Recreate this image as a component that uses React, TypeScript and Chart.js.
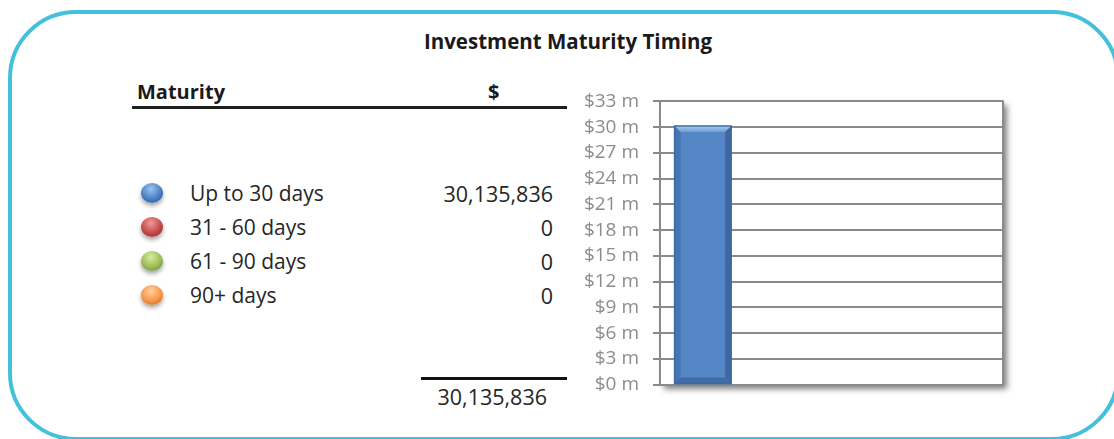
import React, { useEffect, useRef } from "react";
import { Chart, registerables } from "chart.js";

Chart.register(...registerables);

const title = "Investment Maturity Timing";
const categories = ["Up to 30 days", "31 - 60 days", "61 - 90 days", "90+ days"];
const amounts = [30135836, 0, 0, 0];
const ballColors = [
  ["#9cc3f0", "#4a7fc4", "#1f4f8f"],
  ["#f09a98", "#c44a48", "#8a2321"],
  ["#d6ee9c", "#9bbb59", "#5f7f25"],
  ["#ffd0a0", "#f79646", "#b85f12"],
];
const yTicksMax = 33;
const yTicksStep = 3;

const FONT = "'Open Sans', Lato, sans-serif";

function fmt(n: number) {
  return n.toLocaleString("en-US");
}

const plotFrame = {
  id: "plotFrame",
  beforeDraw(chart: any) {
    const { ctx, chartArea: a } = chart;
    ctx.save();
    ctx.shadowColor = "rgba(0,0,0,0.5)";
    ctx.shadowBlur = 6;
    ctx.shadowOffsetX = 4;
    ctx.shadowOffsetY = 4;
    ctx.fillStyle = "#ffffff";
    ctx.fillRect(a.left, a.top, a.right - a.left, a.bottom - a.top);
    ctx.restore();
  },
  afterDraw(chart: any) {
    const { ctx, chartArea: a } = chart;
    ctx.save();
    ctx.strokeStyle = "#8a8a8a";
    ctx.lineWidth = 2;
    ctx.beginPath();
    ctx.moveTo(a.right, a.top - 1);
    ctx.lineTo(a.right, a.bottom + 1);
    ctx.stroke();
    ctx.restore();
  },
  afterDatasetsDraw(chart: any) {
    const { ctx } = chart;
    const meta = chart.getDatasetMeta(0);
    meta.data.forEach((bar: any) => {
      const p = bar.getProps(["x", "y", "base", "width"], true);
      const h = p.base - p.y;
      if (h < 2) return;
      const l = p.x - p.width / 2;
      const r = p.x + p.width / 2;
      const t = p.y;
      const b = p.base;
      const bv = 6;
      ctx.save();
      const gt = ctx.createLinearGradient(0, t, 0, t + bv);
      gt.addColorStop(0, "#a9cbf2");
      gt.addColorStop(1, "#6f9bd6");
      ctx.fillStyle = gt;
      ctx.beginPath();
      ctx.moveTo(l, t);
      ctx.lineTo(r, t);
      ctx.lineTo(r - bv, t + bv);
      ctx.lineTo(l + bv, t + bv);
      ctx.closePath();
      ctx.fill();
      ctx.fillStyle = "rgba(40,80,140,0.3)";
      ctx.beginPath();
      ctx.moveTo(l, t);
      ctx.lineTo(l + bv, t + bv);
      ctx.lineTo(l + bv, b - bv);
      ctx.lineTo(l, b);
      ctx.closePath();
      ctx.fill();
      ctx.fillStyle = "rgba(30,60,110,0.4)";
      ctx.beginPath();
      ctx.moveTo(r, t);
      ctx.lineTo(r - bv, t + bv);
      ctx.lineTo(r - bv, b - bv);
      ctx.lineTo(r, b);
      ctx.closePath();
      ctx.fill();
      ctx.fillStyle = "rgba(30,60,110,0.35)";
      ctx.beginPath();
      ctx.moveTo(l, b);
      ctx.lineTo(l + bv, b - bv);
      ctx.lineTo(r - bv, b - bv);
      ctx.lineTo(r, b);
      ctx.closePath();
      ctx.fill();
      ctx.strokeStyle = "#3d6aa3";
      ctx.lineWidth = 1.5;
      ctx.strokeRect(l, t, r - l, b - t);
      ctx.restore();
    });
  },
};

function MaturityChart() {
  const ref = useRef<HTMLCanvasElement>(null);
  useEffect(() => {
    if (!ref.current) return;
    const chart = new Chart(ref.current, {
      type: "bar",
      data: {
        labels: categories,
        datasets: [
          {
            data: amounts.map((v) => v / 1e6),
            backgroundColor: "#5586c6",
            borderWidth: 0,
            barPercentage: 0.66,
            categoryPercentage: 1,
          },
        ],
      },
      options: {
        animation: false,
        responsive: false,
        maintainAspectRatio: false,
        layout: { padding: { top: 18, bottom: 25, right: 37, left: 0 } },
        plugins: { legend: { display: false }, tooltip: { enabled: false }, title: { display: false } },
        scales: {
          x: {
            display: false,
            grid: { display: false },
          },
          y: {
            min: 0,
            max: yTicksMax,
            ticks: {
              stepSize: yTicksStep,
              color: "#8c8c8c",
              font: { family: FONT, size: 19 },
              padding: 14,
              callback: (v: any) => `$${v} m`,
            },
            grid: {
              color: "#8a8a8a",
              lineWidth: 2,
              tickLength: 7,
              drawTicks: true,
            },
            border: { display: true, color: "#8a8a8a", width: 2 },
            afterFit: (scale: any) => {
              scale.width = 120;
            },
          },
        },
      },
      plugins: [plotFrame],
    });
    return () => chart.destroy();
  }, []);
  return (
    <canvas
      ref={ref}
      width={500}
      height={334}
      style={{ position: "absolute", left: 540, top: 76, width: 500, height: 334 }}
    />
  );
}

export default function App() {
  const total = amounts.reduce((s, v) => s + v, 0);
  const rowY = [194, 228, 262, 296];
  const textBase: React.CSSProperties = {
    position: "absolute",
    fontFamily: FONT,
    color: "#262626",
    whiteSpace: "nowrap",
    lineHeight: 1,
  };
  return (
    <div
      style={{
        position: "absolute",
        left: 0,
        top: 0,
        width: 1114,
        height: 439,
        overflow: "hidden",
        background: "#ffffff",
      }}
    >
      <div
        style={{
          position: "absolute",
          left: 8,
          top: 10,
          width: 1112,
          height: 431,
          boxSizing: "border-box",
          border: "4px solid #45c0dc",
          borderRadius: 68,
        }}
      />
      <div style={{ ...textBase, left: 0, width: 1136, textAlign: "center", top: 31, fontSize: 20.5, fontWeight: 700, color: "#1a1a1a" }}>
        {title}
      </div>
      <div style={{ ...textBase, left: 137, top: 82, fontSize: 20, fontWeight: 700, color: "#1a1a1a" }}>Maturity</div>
      <div style={{ ...textBase, left: 488, top: 82, fontSize: 20, fontWeight: 700, color: "#1a1a1a" }}>$</div>
      <div style={{ position: "absolute", left: 132, top: 106, width: 435, height: 3, background: "#1e1e1e" }} />
      {categories.map((c, i) => (
        <React.Fragment key={c}>
          <div
            style={{
              position: "absolute",
              left: 141,
              top: rowY[i] - 11,
              width: 22,
              height: 20,
              borderRadius: "50%",
              background: `radial-gradient(circle at 45% 30%, ${ballColors[i][0]} 0%, ${ballColors[i][1]} 55%, ${ballColors[i][2]} 100%)`,
              boxShadow: "0 3px 4px rgba(0,0,0,0.35)",
            }}
          />
          <div style={{ ...textBase, left: 190, top: rowY[i] - 11, fontSize: 21 }}>{c}</div>
          <div style={{ ...textBase, right: 1114 - 553, top: rowY[i] - 11, fontSize: 21.5, textAlign: "right" }}>{fmt(amounts[i])}</div>
        </React.Fragment>
      ))}
      <div style={{ position: "absolute", left: 421, top: 377, width: 146, height: 3, background: "#111" }} />
      <div style={{ ...textBase, right: 1114 - 547, top: 386, fontSize: 21.5, textAlign: "right" }}>{fmt(total)}</div>
      <MaturityChart />
    </div>
  );
}
